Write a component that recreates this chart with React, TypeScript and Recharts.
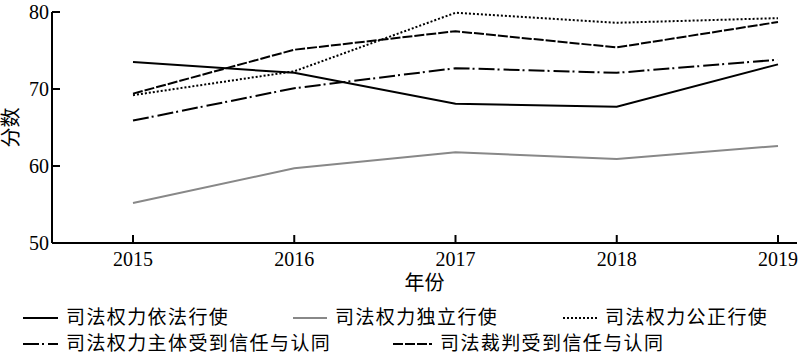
import React from 'react';
import { LineChart, Line, XAxis, YAxis, Label, Legend } from 'recharts';

const YEARS = ['2015', '2016', '2017', '2018', '2019'];
const Y_TICKS = [50, 60, 70, 80];

const yifa = [73.5, 72.1, 68.1, 67.7, 73.2];
const duli = [55.2, 59.7, 61.8, 60.9, 62.6];
const gongzheng = [69.2, 72.3, 79.9, 78.6, 79.2];
const zhuti = [65.9, 70.1, 72.7, 72.1, 73.8];
const caipan = [69.4, 75.1, 77.5, 75.4, 78.7];

const FONT = '"Liberation Serif", "Noto Sans CJK SC", serif';

const SERIES = [
  { key: 'yifa', name: '司法权力依法行使', color: '#000', width: 2, dash: undefined, lx: 23, tx: 66, row: 0 },
  { key: 'duli', name: '司法权力独立行使', color: '#888', width: 2, dash: undefined, lx: 293, tx: 335, row: 0 },
  { key: 'gongzheng', name: '司法权力公正行使', color: '#000', width: 2, dash: '2 2', lx: 563, tx: 605, row: 0 },
  { key: 'zhuti', name: '司法权力主体受到信任与认同', color: '#000', width: 2, dash: '16 3 2 4', lx: 23, tx: 66, row: 1 },
  { key: 'caipan', name: '司法裁判受到信任与认同', color: '#000', width: 2, dash: '10 2', lx: 393, tx: 440, row: 1 },
];

const data = YEARS.map((year, i) => ({
  year,
  yifa: yifa[i],
  duli: duli[i],
  gongzheng: gongzheng[i],
  zhuti: zhuti[i],
  caipan: caipan[i],
}));

function YTick({ x, y, payload }: any) {
  return (
    <g>
      <line x1={x} x2={x + 8} y1={y} y2={y} stroke="#000" strokeWidth={2} />
      <text x={x - 3} y={y} textAnchor="end" dominantBaseline="central" fontSize={20} fontFamily={FONT} fill="#000">
        {payload.value}
      </text>
    </g>
  );
}

function XTick({ x, y, payload }: any) {
  return (
    <g>
      <line x1={x} x2={x} y1={y} y2={y - 8} stroke="#000" strokeWidth={2} />
      <text x={x} y={y + 16} textAnchor="middle" dominantBaseline="central" fontSize={20} fontFamily={FONT} fill="#000">
        {payload.value}
      </text>
    </g>
  );
}

function LegendBox() {
  return (
    <div style={{ position: 'relative', width: 800, height: 58, fontFamily: FONT }}>
      {SERIES.map((s) => {
        const cy = s.row === 0 ? 18 : 44;
        return (
          <React.Fragment key={s.key}>
            <svg
              width={s.tx - s.lx - 8}
              height={6}
              style={{ position: 'absolute', left: s.lx, top: cy - 3 }}
            >
              <line x1={0} x2={s.tx - s.lx - 8} y1={3} y2={3} stroke={s.color} strokeWidth={s.width} strokeDasharray={s.dash} />
            </svg>
            <span
              style={{
                position: 'absolute',
                left: s.tx,
                top: cy - 13,
                fontSize: 19,
                lineHeight: '26px',
                letterSpacing: 1.4,
                whiteSpace: 'nowrap',
                color: '#000',
              }}
            >
              {s.name}
            </span>
          </React.Fragment>
        );
      })}
    </div>
  );
}

export default function App() {
  return (
    <div style={{ position: 'fixed', left: 0, top: 0, width: 800, height: 358, background: '#fff' }}>
      <LineChart width={800} height={358} data={data} margin={{ top: 12, right: 3, left: 0, bottom: 85 }}>
        <XAxis
          dataKey="year"
          height={30}
          padding={{ left: 81, right: 19 }}
          axisLine={{ stroke: '#000', strokeWidth: 2 }}
          tickLine={false}
          tickSize={0}
          tickMargin={0}
          tick={<XTick />}
          interval={0}
        >
          <Label value="年份" position="bottom" offset={3} fontSize={20} fontFamily={FONT} fill="#000" />
        </XAxis>
        <YAxis
          width={52}
          domain={[50, 80]}
          ticks={Y_TICKS}
          axisLine={{ stroke: '#000', strokeWidth: 2 }}
          tickLine={false}
          tickSize={0}
          tickMargin={0}
          tick={<YTick />}
          interval={0}
        >
          <Label
            value="分数"
            angle={-90}
            position="insideLeft"
            offset={11}
            fontSize={20}
            fontFamily={FONT}
            fill="#000"
            style={{ textAnchor: 'middle' }}
          />
        </YAxis>
        <Legend
          verticalAlign="middle"
          align="center"
          layout="horizontal"
          content={() => <LegendBox />}
          wrapperStyle={{ position: 'absolute', left: 0, top: 300, width: 800, height: 58 }}
        />
        {SERIES.map((s) => (
          <Line
            key={s.key}
            type="linear"
            dataKey={s.key}
            name={s.name}
            stroke={s.color}
            strokeWidth={s.width}
            strokeDasharray={s.dash}
            dot={false}
            activeDot={false}
            isAnimationActive={false}
          />
        ))}
      </LineChart>
    </div>
  );
}
